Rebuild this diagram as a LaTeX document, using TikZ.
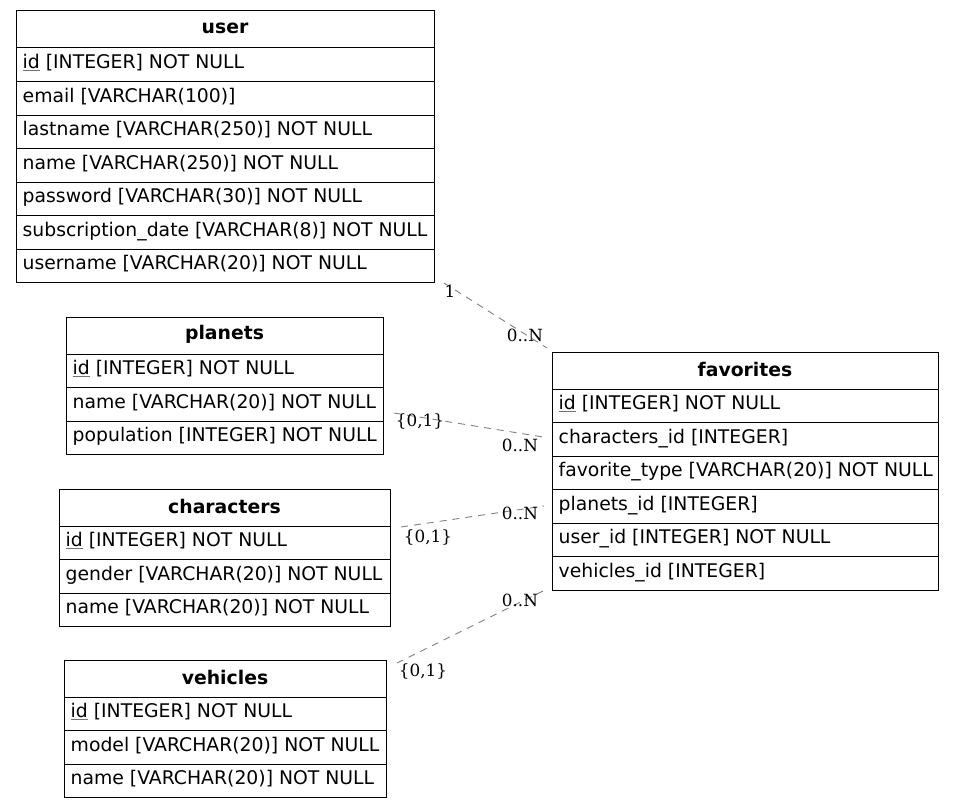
\documentclass[tikz,border=0pt]{standalone}
\usepackage{fontspec}
\setmainfont{DejaVu Sans}
\newfontfamily\cardfont{DejaVu Serif}
\usetikzlibrary{fit}

% primary key: grey underline below the column name
\newcommand\pk[1]{\rlap{\color{black!55}\underline{\phantom{#1}}}#1}

\tikzset{
  frame/.style={draw=black, line width=1pt, inner sep=0pt},
  tabletitle/.style={font=\fontsize{18.8}{21}\selectfont\bfseries, inner sep=0pt},
  field/.style={font=\fontsize{18.8}{21}\selectfont, anchor=west, inner xsep=6.5pt, inner ysep=0pt},
  sep/.style={draw=black, line width=1pt},
  rel/.style={draw=black!50, line width=0.9pt, dash pattern=on 7pt off 6pt},
  card/.style={font=\cardfont\fontsize{16.8}{18}\selectfont, inner sep=0pt, text=black}
}

% #1 name, #2 left, #3 right, #4 top, #5 number of rows, #6 title, #7 rows
\newcommand\ertable[7]{%
  \pgfmathsetmacro\ybot{#4+37+#5*33.5}%
  \coordinate (#1-nw) at (#2,#4);
  \coordinate (#1-se) at (#3,\ybot);
  \node[frame, fit=(#1-nw)(#1-se)] (#1) {};
  \node[tabletitle] (#1-title) at ({(#2+#3)/2},{#4+17.5}) {#6};
  \foreach \r [count=\i] in {#7} {
    \draw[sep] (#2,{#4+37+(\i-1)*33.5}) -- (#3,{#4+37+(\i-1)*33.5});
    \node[field] (#1-\i) at (#2,{#4+37+(\i-0.5)*33.5}) {\strut\r};
  }
}

\begin{document}
\begin{tikzpicture}[x=1pt,y=-1pt]
\useasboundingbox (0,0) rectangle (953,808);

\ertable{user}{16}{434}{11}{7}{user}{%
  \pk{id} [INTEGER] NOT NULL,
  email [VARCHAR(100)],
  lastname [VARCHAR(250)] NOT NULL,
  name [VARCHAR(250)] NOT NULL,
  password [VARCHAR(30)] NOT NULL,
  subscription\_date [VARCHAR(8)] NOT NULL,
  username [VARCHAR(20)] NOT NULL}

\ertable{planets}{66}{383}{317}{3}{planets}{%
  \pk{id} [INTEGER] NOT NULL,
  name [VARCHAR(20)] NOT NULL,
  population [INTEGER] NOT NULL}

\ertable{characters}{59}{390}{489}{3}{characters}{%
  \pk{id} [INTEGER] NOT NULL,
  gender [VARCHAR(20)] NOT NULL,
  name [VARCHAR(20)] NOT NULL}

\ertable{vehicles}{64}{386}{660}{3}{vehicles}{%
  \pk{id} [INTEGER] NOT NULL,
  model [VARCHAR(20)] NOT NULL,
  name [VARCHAR(20)] NOT NULL}

\ertable{favorites}{552}{938}{352}{6}{favorites}{%
  \pk{id} [INTEGER] NOT NULL,
  characters\_id [INTEGER],
  favorite\_type [VARCHAR(20)] NOT NULL,
  planets\_id [INTEGER],
  user\_id [INTEGER] NOT NULL,
  vehicles\_id [INTEGER]}

% relationship end points
\coordinate (u-out) at (444,283);
\coordinate (f-in-u) at (547,348);
\coordinate (p-out) at (394,413);
\coordinate (f-in-p) at (543,437);
\coordinate (c-out) at (401,527);
\coordinate (f-in-c) at (544,506);
\coordinate (v-out) at (397,663);
\coordinate (f-in-v) at (543,591);

\draw[rel] (u-out) -- (f-in-u);
\draw[rel] (p-out) -- (f-in-p);
\draw[rel] (c-out) -- (f-in-c);
\draw[rel] (v-out) -- (f-in-v);

% cardinalities
\node[card] (card-u) at (450,291) {1};
\node[card] (card-fu) at (525,335) {0..N};
\node[card] (card-p) at (420,421) {\{0,1\}};
\node[card] (card-fp) at (520,445) {0..N};
\node[card] (card-c) at (428,537) {\{0,1\}};
\node[card] (card-fc) at (520,513) {0..N};
\node[card] (card-v) at (423,671) {\{0,1\}};
\node[card] (card-fv) at (520,600) {0..N};
\end{tikzpicture}
\end{document}
